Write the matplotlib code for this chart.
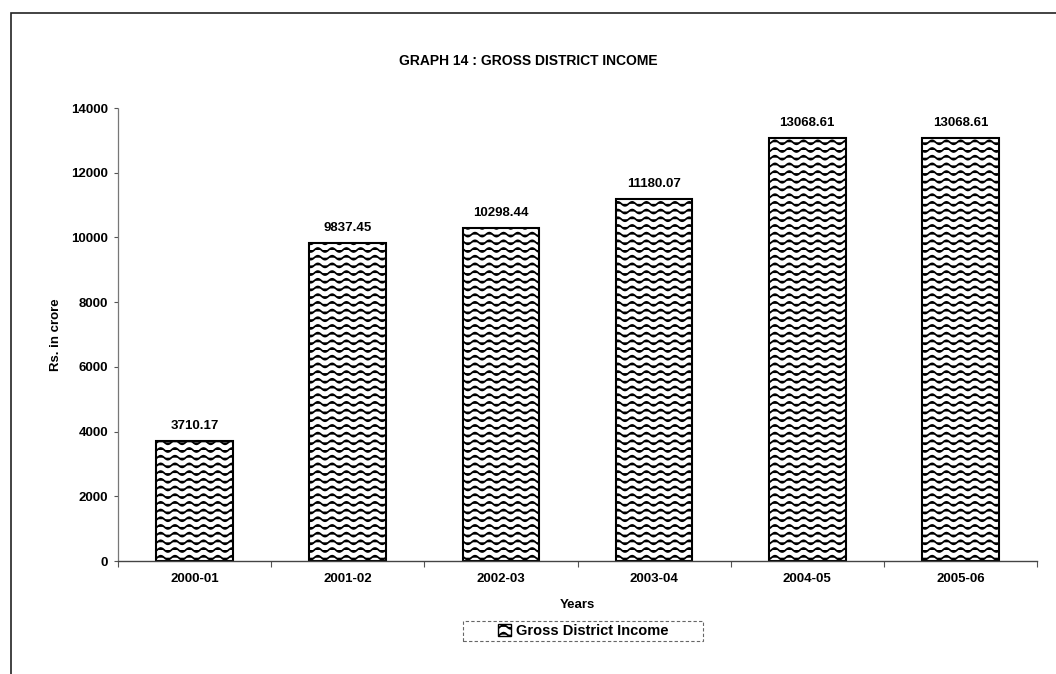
import warnings
import numpy as np
import matplotlib
matplotlib.use("Agg")
import matplotlib.pyplot as plt
import matplotlib.hatch as mhatch
from matplotlib.path import Path
from matplotlib.patches import Rectangle

warnings.filterwarnings("ignore")

years = ["2000-01", "2001-02", "2002-03", "2003-04", "2004-05", "2005-06"]
income = [3710.17, 9837.45, 10298.44, 11180.07, 13068.61, 13068.61]
y_ticks = [0, 2000, 4000, 6000, 8000, 10000, 12000, 14000]


class WaveHatch(mhatch.HatchPatternBase):
    """Rows of horizontal sine waves, selected with '~' in the hatch string."""

    def __init__(self, hatch, density):
        self.num_rows = hatch.count('~') * 13
        self.periods = 7
        self.pts = self.periods * 12 + 1
        self.num_vertices = self.num_rows * self.pts

    def set_vertices_and_codes(self, vertices, codes):
        xs = np.linspace(0.0, 1.0, self.pts)
        wave = 0.02 * np.sin(2 * np.pi * self.periods * xs)
        for i in range(self.num_rows):
            sl = slice(i * self.pts, (i + 1) * self.pts)
            vertices[sl, 0] = xs
            vertices[sl, 1] = (i + 0.5) / self.num_rows + wave
            codes[sl] = Path.LINETO
            codes[i * self.pts] = Path.MOVETO


mhatch._hatch_types.append(WaveHatch)

plt.rcParams['font.family'] = ['Liberation Sans', 'DejaVu Sans']
plt.rcParams['font.weight'] = 'bold'
plt.rcParams['hatch.linewidth'] = 1.25
plt.rcParams['hatch.color'] = 'black'

fig = plt.figure(figsize=(10.56, 6.74), dpi=100)
ax = fig.add_axes([118 / 1056, 113 / 674, 919 / 1056, 453 / 674])

x = np.arange(len(years))
bars = ax.bar(x, income, width=0.5, color='white', edgecolor='black',
              linewidth=1.5, hatch='~', label='Gross District Income')

for xi, v in zip(x, income):
    ax.text(xi, v + 280, f"{v:.2f}", ha='center', va='bottom',
            fontsize=9.5, fontweight='bold')

ax.set_xlim(-0.5, len(years) - 0.5)
ax.set_ylim(0, 14000)
ax.set_yticks(y_ticks)
ax.set_yticklabels([str(t) for t in y_ticks], fontsize=9.5, fontweight='bold')
ax.set_xticks(x)
ax.set_xticklabels(years, fontsize=9.5, fontweight='bold')
ax.tick_params(axis='x', length=0, pad=9)
ax.set_xticks(np.arange(-0.5, len(years)), minor=True)
ax.tick_params(axis='x', which='minor', length=4, width=0.8, color='#555555')
ax.tick_params(axis='y', length=3, width=0.8, color='#555555', pad=4)

for side in ['top', 'right']:
    ax.spines[side].set_visible(False)
ax.spines['left'].set_linestyle((0, (2, 1)))
ax.spines['left'].set_color('#777777')
ax.spines['left'].set_linewidth(0.9)
ax.spines['bottom'].set_color('#444444')
ax.spines['bottom'].set_linewidth(1.0)

ax.set_xlabel("Years", fontsize=9.5, fontweight='bold', labelpad=10)
ax.set_ylabel("Rs. in crore", fontsize=9.5, fontweight='bold', labelpad=7)

fig.text(0.5, 0.9095, "GRAPH 14 : GROSS DISTRICT INCOME", ha='center',
         va='center', fontsize=10, fontweight='bold')

leg = ax.legend(loc='center', bbox_to_anchor=(583 / 1056, 1 - 631 / 674),
                bbox_transform=fig.transFigure, frameon=False,
                handlelength=0.9, handleheight=0.9, handletextpad=0.3,
                borderpad=0.3, prop={'size': 10.5, 'weight': 'bold'})
for patch in leg.get_patches():
    patch.set_linewidth(1.0)

# dashed box around the legend
fig.patches.append(Rectangle((463 / 1056, 1 - 641 / 674), 240 / 1056, 20 / 674,
                             transform=fig.transFigure, fill=False,
                             edgecolor='#666666', linewidth=0.8,
                             linestyle=(0, (3, 2))))

# page border around the chart
fig.patches.append(Rectangle((11 / 1056, -0.1), 1.2, 1 - 13 / 674 + 0.1,
                             transform=fig.transFigure, fill=False,
                             edgecolor='#222222', linewidth=1.2))

fig.savefig("out.png", dpi=100)
